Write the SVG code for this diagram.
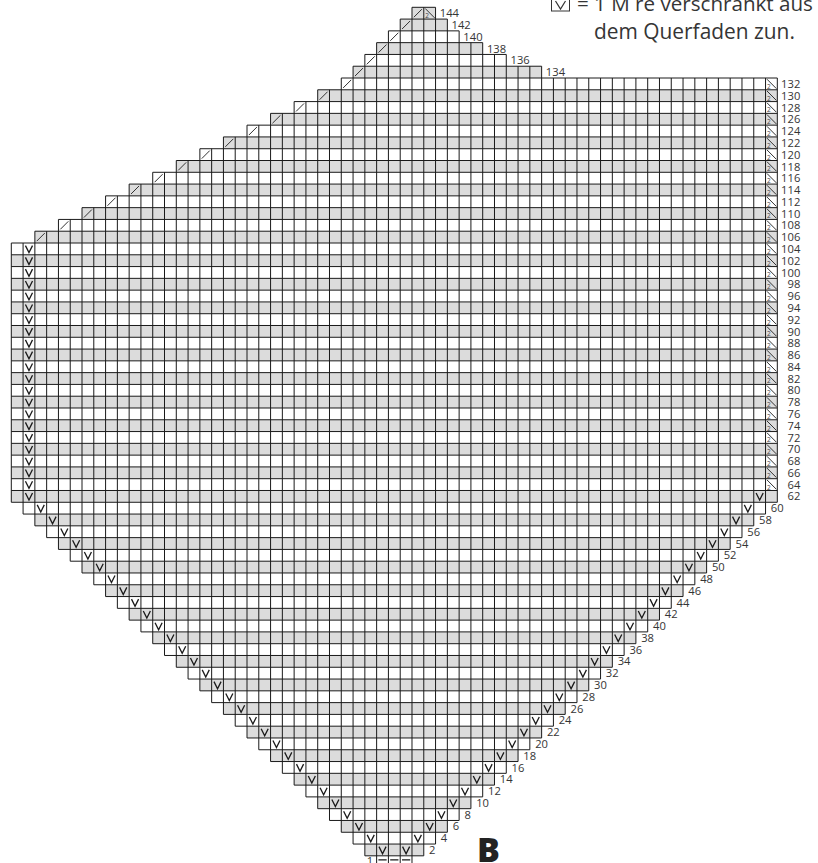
<svg xmlns="http://www.w3.org/2000/svg" width="818" height="863" viewBox="0 0 818 863">
<style>
text{font-family:"Open Sans","Noto Sans","Liberation Sans",sans-serif;fill:#333}
.g{fill:#dcdcdc}
.l{fill:none;stroke:#1a1a1a;stroke-width:1;vector-effect:non-scaling-stroke}
.s{fill:none;stroke:#333;stroke-width:1;vector-effect:non-scaling-stroke}
.v{fill:none;stroke:#1a1a1a;stroke-width:1.3;vector-effect:non-scaling-stroke}
.n text{font-size:.95px}
</style>
<defs>
<path id="v" class="v" d="M.2 .22L.5 .82L.8 .22"/>
<path id="k" class="s" d="M.16 .84L.84 .16"/>
<g id="m"><path class="s" d="M.12 .1L.92 .9"/><text x=".12" y=".92" style="font-size:.55px;fill:#444">2</text></g>
</defs>
<g id="chart" transform="translate(11.3 7.3) scale(11.785)">
<g id="shading">
<rect class="g" x="34" y="0" width="2" height="1"/>
<rect class="g" x="33" y="1" width="4" height="1"/>
<rect class="g" x="31" y="3" width="9" height="1"/>
<rect class="g" x="29" y="5" width="16" height="1"/>
<rect class="g" x="26" y="7" width="39" height="1"/>
<rect class="g" x="22" y="9" width="43" height="1"/>
<rect class="g" x="18" y="11" width="47" height="1"/>
<rect class="g" x="14" y="13" width="51" height="1"/>
<rect class="g" x="10" y="15" width="55" height="1"/>
<rect class="g" x="6" y="17" width="59" height="1"/>
<rect class="g" x="2" y="19" width="63" height="1"/>
<rect class="g" x="0" y="21" width="65" height="1"/>
<rect class="g" x="0" y="23" width="65" height="1"/>
<rect class="g" x="0" y="25" width="65" height="1"/>
<rect class="g" x="0" y="27" width="65" height="1"/>
<rect class="g" x="0" y="29" width="65" height="1"/>
<rect class="g" x="0" y="31" width="65" height="1"/>
<rect class="g" x="0" y="33" width="65" height="1"/>
<rect class="g" x="0" y="35" width="65" height="1"/>
<rect class="g" x="0" y="37" width="65" height="1"/>
<rect class="g" x="0" y="39" width="65" height="1"/>
<rect class="g" x="0" y="41" width="65" height="1"/>
<rect class="g" x="2" y="43" width="61" height="1"/>
<rect class="g" x="4" y="45" width="57" height="1"/>
<rect class="g" x="6" y="47" width="53" height="1"/>
<rect class="g" x="8" y="49" width="49" height="1"/>
<rect class="g" x="10" y="51" width="45" height="1"/>
<rect class="g" x="12" y="53" width="41" height="1"/>
<rect class="g" x="14" y="55" width="37" height="1"/>
<rect class="g" x="16" y="57" width="33" height="1"/>
<rect class="g" x="18" y="59" width="29" height="1"/>
<rect class="g" x="20" y="61" width="25" height="1"/>
<rect class="g" x="22" y="63" width="21" height="1"/>
<rect class="g" x="24" y="65" width="17" height="1"/>
<rect class="g" x="26" y="67" width="13" height="1"/>
<rect class="g" x="28" y="69" width="9" height="1"/>
<rect class="g" x="30" y="71" width="5" height="1"/>
</g>
<g id="grid">
<path class="l" d="M34 0H36M33 1H37M32 2H38M31 3H40M30 4H42M29 5H45M28 6H65M26 7H65M24 8H65M22 9H65M20 10H65M18 11H65M16 12H65M14 13H65M12 14H65M10 15H65M8 16H65M6 17H65M4 18H65M2 19H65M0 20H65M0 21H65M0 22H65M0 23H65M0 24H65M0 25H65M0 26H65M0 27H65M0 28H65M0 29H65M0 30H65M0 31H65M0 32H65M0 33H65M0 34H65M0 35H65M0 36H65M0 37H65M0 38H65M0 39H65M0 40H65M0 41H65M0 42H65M1 43H64M2 44H63M3 45H62M4 46H61M5 47H60M6 48H59M7 49H58M8 50H57M9 51H56M10 52H55M11 53H54M12 54H53M13 55H52M14 56H51M15 57H50M16 58H49M17 59H48M18 60H47M19 61H46M20 62H45M21 63H44M22 64H43M23 65H42M24 66H41M25 67H40M26 68H39M27 69H38M28 70H37M29 71H36M30 72H35"/>
<path class="l" d="M0 20V42M1 20V43M2 19V44M3 19V45M4 18V46M5 18V47M6 17V48M7 17V49M8 16V50M9 16V51M10 15V52M11 15V53M12 14V54M13 14V55M14 13V56M15 13V57M16 12V58M17 12V59M18 11V60M19 11V61M20 10V62M21 10V63M22 9V64M23 9V65M24 8V66M25 8V67M26 7V68M27 7V69M28 6V70M29 5V71M30 4V72M31 3V73M32 2V73M33 1V73M34 0V73M35 0V72M36 0V71M37 1V70M38 2V69M39 3V68M40 3V67M41 4V66M42 4V65M43 5V64M44 5V63M45 5V62M46 6V61M47 6V60M48 6V59M49 6V58M50 6V57M51 6V56M52 6V55M53 6V54M54 6V53M55 6V52M56 6V51M57 6V50M58 6V49M59 6V48M60 6V47M61 6V46M62 6V45M63 6V44M64 6V43M65 6V42"/>
<path class="v" d="M31.15 72.35H31.85M32.15 72.35H32.85M33.15 72.35H33.85"/>
</g>
<g id="stitches-slash">
<use href="#k" x="34" y="0"/><use href="#k" x="33" y="1"/><use href="#k" x="32" y="2"/><use href="#k" x="31" y="3"/><use href="#k" x="30" y="4"/><use href="#k" x="29" y="5"/><use href="#k" x="28" y="6"/><use href="#k" x="26" y="7"/><use href="#k" x="24" y="8"/><use href="#k" x="22" y="9"/><use href="#k" x="20" y="10"/><use href="#k" x="18" y="11"/><use href="#k" x="16" y="12"/><use href="#k" x="14" y="13"/><use href="#k" x="12" y="14"/><use href="#k" x="10" y="15"/><use href="#k" x="8" y="16"/><use href="#k" x="6" y="17"/><use href="#k" x="4" y="18"/><use href="#k" x="2" y="19"/>
</g>
<g id="stitches-decrease">
<use href="#m" x="35" y="0"/><use href="#m" x="64" y="6"/><use href="#m" x="64" y="7"/><use href="#m" x="64" y="8"/><use href="#m" x="64" y="9"/><use href="#m" x="64" y="10"/><use href="#m" x="64" y="11"/><use href="#m" x="64" y="12"/><use href="#m" x="64" y="13"/><use href="#m" x="64" y="14"/><use href="#m" x="64" y="15"/><use href="#m" x="64" y="16"/><use href="#m" x="64" y="17"/><use href="#m" x="64" y="18"/><use href="#m" x="64" y="19"/><use href="#m" x="64" y="20"/><use href="#m" x="64" y="21"/><use href="#m" x="64" y="22"/><use href="#m" x="64" y="23"/><use href="#m" x="64" y="24"/><use href="#m" x="64" y="25"/><use href="#m" x="64" y="26"/><use href="#m" x="64" y="27"/><use href="#m" x="64" y="28"/><use href="#m" x="64" y="29"/><use href="#m" x="64" y="30"/><use href="#m" x="64" y="31"/><use href="#m" x="64" y="32"/><use href="#m" x="64" y="33"/><use href="#m" x="64" y="34"/><use href="#m" x="64" y="35"/><use href="#m" x="64" y="36"/><use href="#m" x="64" y="37"/><use href="#m" x="64" y="38"/><use href="#m" x="64" y="39"/><use href="#m" x="64" y="40"/>
</g>
<g id="stitches-v">
<use href="#v" x="1" y="20"/><use href="#v" x="1" y="21"/><use href="#v" x="1" y="22"/><use href="#v" x="1" y="23"/><use href="#v" x="1" y="24"/><use href="#v" x="1" y="25"/><use href="#v" x="1" y="26"/><use href="#v" x="1" y="27"/><use href="#v" x="1" y="28"/><use href="#v" x="1" y="29"/><use href="#v" x="1" y="30"/><use href="#v" x="1" y="31"/><use href="#v" x="1" y="32"/><use href="#v" x="1" y="33"/><use href="#v" x="1" y="34"/><use href="#v" x="1" y="35"/><use href="#v" x="1" y="36"/><use href="#v" x="1" y="37"/><use href="#v" x="1" y="38"/><use href="#v" x="1" y="39"/><use href="#v" x="1" y="40"/><use href="#v" x="1" y="41"/><use href="#v" x="63" y="41"/>
<use href="#v" x="2" y="42"/><use href="#v" x="62" y="42"/><use href="#v" x="3" y="43"/><use href="#v" x="61" y="43"/><use href="#v" x="4" y="44"/><use href="#v" x="60" y="44"/><use href="#v" x="5" y="45"/><use href="#v" x="59" y="45"/><use href="#v" x="6" y="46"/><use href="#v" x="58" y="46"/><use href="#v" x="7" y="47"/><use href="#v" x="57" y="47"/><use href="#v" x="8" y="48"/><use href="#v" x="56" y="48"/><use href="#v" x="9" y="49"/><use href="#v" x="55" y="49"/><use href="#v" x="10" y="50"/><use href="#v" x="54" y="50"/><use href="#v" x="11" y="51"/><use href="#v" x="53" y="51"/><use href="#v" x="12" y="52"/><use href="#v" x="52" y="52"/><use href="#v" x="13" y="53"/><use href="#v" x="51" y="53"/><use href="#v" x="14" y="54"/><use href="#v" x="50" y="54"/><use href="#v" x="15" y="55"/><use href="#v" x="49" y="55"/><use href="#v" x="16" y="56"/><use href="#v" x="48" y="56"/><use href="#v" x="17" y="57"/><use href="#v" x="47" y="57"/><use href="#v" x="18" y="58"/><use href="#v" x="46" y="58"/><use href="#v" x="19" y="59"/><use href="#v" x="45" y="59"/><use href="#v" x="20" y="60"/><use href="#v" x="44" y="60"/><use href="#v" x="21" y="61"/><use href="#v" x="43" y="61"/><use href="#v" x="22" y="62"/><use href="#v" x="42" y="62"/><use href="#v" x="23" y="63"/><use href="#v" x="41" y="63"/><use href="#v" x="24" y="64"/><use href="#v" x="40" y="64"/><use href="#v" x="25" y="65"/><use href="#v" x="39" y="65"/><use href="#v" x="26" y="66"/><use href="#v" x="38" y="66"/><use href="#v" x="27" y="67"/><use href="#v" x="37" y="67"/><use href="#v" x="28" y="68"/><use href="#v" x="36" y="68"/><use href="#v" x="29" y="69"/><use href="#v" x="35" y="69"/><use href="#v" x="30" y="70"/><use href="#v" x="34" y="70"/><use href="#v" x="31" y="71"/><use href="#v" x="33" y="71"/>
</g>
<g id="row-numbers" class="n" opacity="0.99">
<text x="36.36" y=".85">144</text><text x="37.36" y="1.85">142</text><text x="38.36" y="2.85">140</text><text x="40.36" y="3.85">138</text><text x="42.36" y="4.85">136</text><text x="45.36" y="5.85">134</text>
<g text-anchor="end">
<text x="66.95" y="6.85">132</text><text x="66.95" y="7.85">130</text><text x="66.95" y="8.85">128</text><text x="66.95" y="9.85">126</text><text x="66.95" y="10.85">124</text><text x="66.95" y="11.85">122</text><text x="66.95" y="12.85">120</text><text x="66.95" y="13.85">118</text><text x="66.95" y="14.85">116</text><text x="66.95" y="15.85">114</text><text x="66.95" y="16.85">112</text><text x="66.95" y="17.85">110</text><text x="66.95" y="18.85">108</text><text x="66.95" y="19.85">106</text><text x="66.95" y="20.85">104</text><text x="66.95" y="21.85">102</text><text x="66.95" y="22.85">100</text><text x="66.95" y="23.85">98</text><text x="66.95" y="24.85">96</text><text x="66.95" y="25.85">94</text><text x="66.95" y="26.85">92</text><text x="66.95" y="27.85">90</text><text x="66.95" y="28.85">88</text><text x="66.95" y="29.85">86</text><text x="66.95" y="30.85">84</text><text x="66.95" y="31.85">82</text><text x="66.95" y="32.85">80</text><text x="66.95" y="33.85">78</text><text x="66.95" y="34.85">76</text><text x="66.95" y="35.85">74</text><text x="66.95" y="36.85">72</text><text x="66.95" y="37.85">70</text><text x="66.95" y="38.85">68</text><text x="66.95" y="39.85">66</text><text x="66.95" y="40.85">64</text><text x="66.95" y="41.85">62</text>
</g>
<text x="64.45" y="42.85">60</text><text x="63.45" y="43.85">58</text><text x="62.45" y="44.85">56</text><text x="61.45" y="45.85">54</text><text x="60.45" y="46.85">52</text><text x="59.45" y="47.85">50</text><text x="58.45" y="48.85">48</text><text x="57.45" y="49.85">46</text><text x="56.45" y="50.85">44</text><text x="55.45" y="51.85">42</text><text x="54.45" y="52.85">40</text><text x="53.45" y="53.85">38</text><text x="52.45" y="54.85">36</text><text x="51.45" y="55.85">34</text><text x="50.45" y="56.85">32</text><text x="49.45" y="57.85">30</text><text x="48.45" y="58.85">28</text><text x="47.45" y="59.85">26</text><text x="46.45" y="60.85">24</text><text x="45.45" y="61.85">22</text><text x="44.45" y="62.85">20</text><text x="43.45" y="63.85">18</text><text x="42.45" y="64.85">16</text><text x="41.45" y="65.85">14</text><text x="40.45" y="66.85">12</text><text x="39.45" y="67.85">10</text><text x="38.45" y="68.85">8</text><text x="37.45" y="69.85">6</text><text x="36.45" y="70.85">4</text><text x="35.45" y="71.85">2</text><text x="30.16" y="72.8">1</text>
</g>
</g>
<g id="legend" opacity="0.99">
<rect x="551.5" y="-8" width="18" height="19" fill="none" stroke="#333" stroke-width="1"/>
<path d="M555.5 1L560.5 9L565.5 1" fill="none" stroke="#333" stroke-width="1.2"/>
<text x="577" y="11" font-size="20.6">= 1 M re verschränkt aus</text>
<text x="594" y="39.3" font-size="20.9">dem Querfaden zun.</text>
</g>
<text id="title" x="477" y="862" font-size="34" font-weight="800" style="fill:#222">B</text>
</svg>
